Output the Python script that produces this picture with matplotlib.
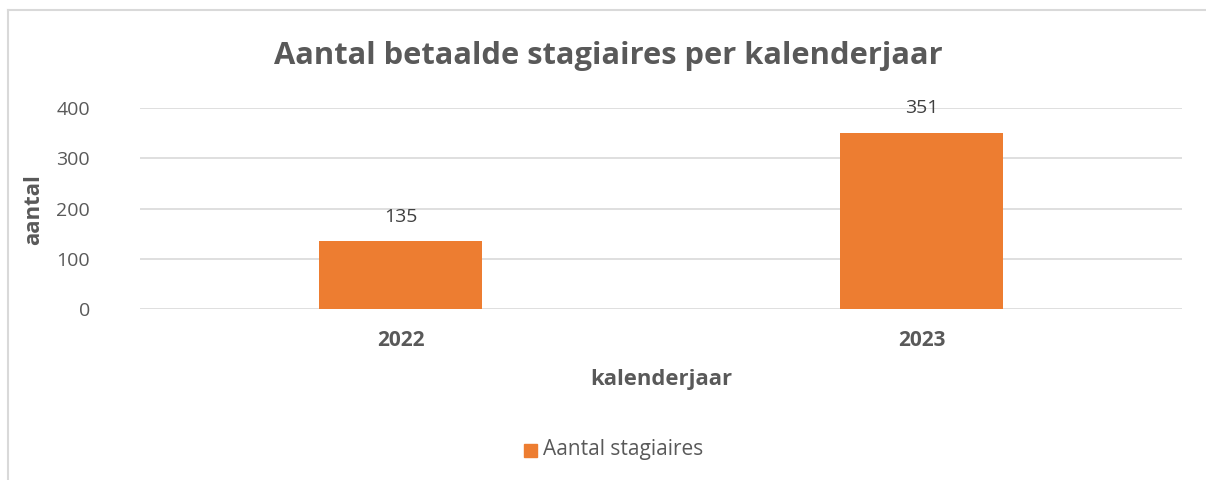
import matplotlib
matplotlib.use("Agg")
import matplotlib.pyplot as plt
from matplotlib.patches import Rectangle

# chart data
years = ["2022", "2023"]
stagiaires = [135, 351]
y_ticks = [0, 100, 200, 300, 400]
title = "Aantal betaalde stagiaires per kalenderjaar"

W, H = 1206, 480
grey = "#595959"
orange = "#ED7D31"
plt.rcParams["font.family"] = ["Open Sans", "DejaVu Sans"]

fig = plt.figure(figsize=(W / 100, H / 100), dpi=100)

# outer chart border (only left and top visible in crop)
fig.add_artist(plt.Line2D([7.5 / W, 7.5 / W], [0, 1 - 9.5 / H], transform=fig.transFigure,
                          color="#d9d9d9", lw=1.5))
fig.add_artist(plt.Line2D([7.5 / W, 1], [1 - 9.5 / H, 1 - 9.5 / H], transform=fig.transFigure,
                          color="#d9d9d9", lw=1.5))

# plot area in pixels: x 140..1182, y 108..309
left, right, top, bottom = 140, 1182, 108, 309
ax = fig.add_axes([left / W, 1 - bottom / H, (right - left) / W, (bottom - top) / H])

x = list(range(len(years)))
bars = ax.bar(x, stagiaires, width=0.313, color=orange, zorder=3)
ax.set_xlim(-0.5, len(years) - 0.5)
ax.set_ylim(0, 400)
ax.set_yticks(y_ticks)
ax.set_yticklabels([str(t) for t in y_ticks], fontsize=14, color=grey)
ax.set_xticks(x)
ax.set_xticklabels(years, fontsize=15, color=grey, fontweight="bold")
ax.tick_params(axis="both", length=0)
ax.tick_params(axis="y", pad=36)
ax.tick_params(axis="x", pad=15)
ax.grid(axis="y", color="#d9d9d9", lw=1.2, zorder=0)
for s in ax.spines.values():
    s.set_visible(False)

for xi, v in zip(x, stagiaires):
    ax.annotate(str(v), (xi, v), xytext=(0, 11), textcoords="offset points",
                ha="center", va="bottom", fontsize=14, color="#404040")

fig.text(608 / W, 1 - 56 / H, title, ha="center", va="center", fontsize=22.2,
         fontweight="bold", color=grey)
fig.text(661 / W, 1 - 380 / H, "kalenderjaar", ha="center", va="center",
         fontsize=15.8, fontweight="bold", color=grey)
fig.text(34 / W, 1 - 210 / H, "aantal", ha="center", va="center", rotation=90,
         fontsize=16, fontweight="bold", color=grey)

# legend
fig.add_artist(Rectangle((524 / W, 1 - 457 / H), 13 / W, 13 / H, transform=fig.transFigure,
                         color=orange))
fig.text(543 / W, 1 - 450 / H, "Aantal stagiaires", ha="left", va="center",
         fontsize=15, color=grey)

fig.savefig("out.png", dpi=100)
